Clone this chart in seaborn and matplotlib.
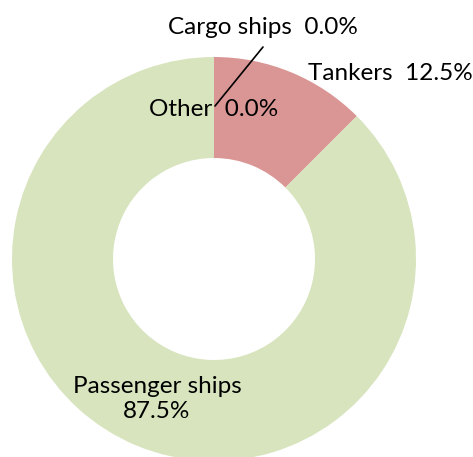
import matplotlib
matplotlib.use("Agg")
import matplotlib.pyplot as plt
import seaborn as sns

categories = ["Tankers", "Passenger ships", "Cargo ships", "Other"]
values = [12.5, 87.5, 0.0, 0.0]
colors = ["#D99694", "#D7E4BD", "#9BBB59", "#8064A2"]

sns.set_theme(style="white")
plt.rcParams["font.family"] = ["Lato", "DejaVu Sans"]

W, H = 473, 457
fig = plt.figure(figsize=(W / 100, H / 100), dpi=100)
ax = fig.add_axes([0, 0, 1, 1])

cx, cy, R, r = 214, 259, 202, 101
# inverted y-axis flips orientation, so counterclock=True here draws clockwise on screen
ax.pie(values, colors=colors, startangle=-90, counterclock=True,
       center=(cx, cy), radius=R, wedgeprops=dict(width=R - r, linewidth=0),
       frame=True)
ax.set_xlim(0, W)
ax.set_ylim(H, 0)
ax.set_aspect("equal")
ax.axis("off")

fs = 17.5
def pct(v):
    return f"{v:.1f}%"

ax.text(263, 28, f"{categories[2]}  {pct(values[2])}", ha="center", va="center", fontsize=fs, color="black")
ax.text(390, 74, f"{categories[0]}  {pct(values[0])}", ha="center", va="center", fontsize=fs, color="black")
ax.text(214, 109, f"{categories[3]}  {pct(values[3])}", ha="center", va="center", fontsize=fs, color="black")
ax.text(157, 399, f"{categories[1]}\n{pct(values[1])}", ha="center", va="center", fontsize=fs, color="black", linespacing=1.2)
ax.plot([263, 215], [47, 106], color="black", linewidth=1.2)

fig.savefig("out.png", dpi=100)
